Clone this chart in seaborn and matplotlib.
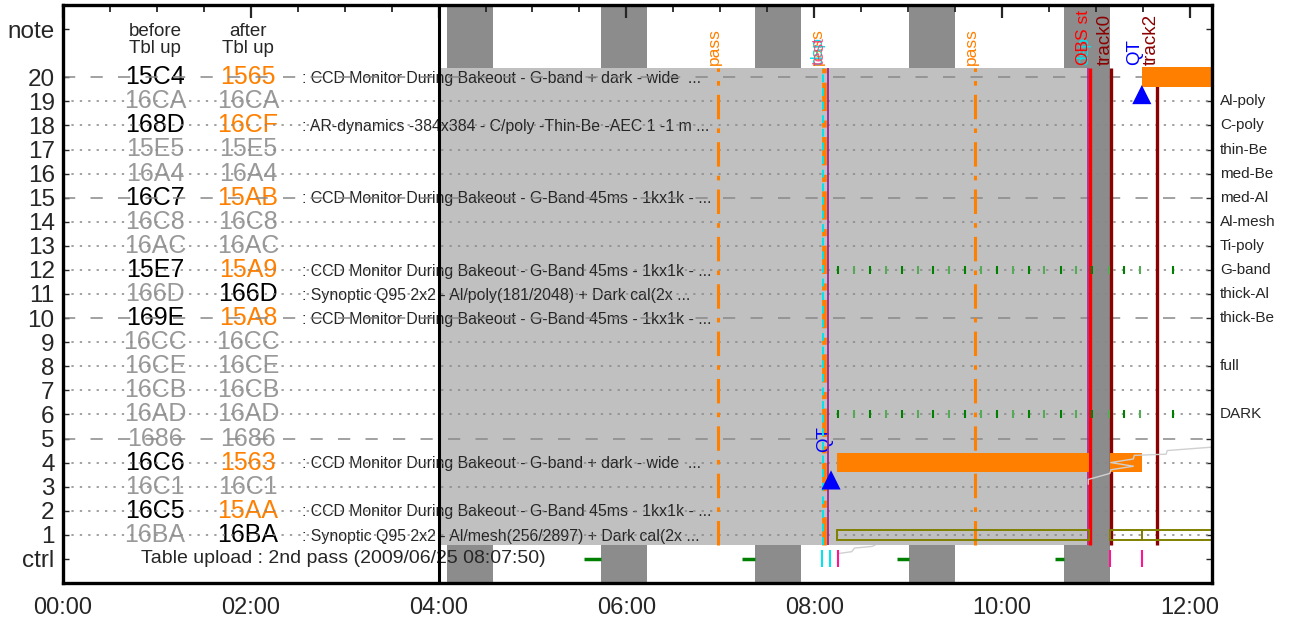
import matplotlib
matplotlib.use("Agg")
import matplotlib.pyplot as plt
from matplotlib.ticker import FuncFormatter
import numpy as np
import pandas as pd
import seaborn as sns

# ---- data ---------------------------------------------------------------
rows = list(range(20, 0, -1))
before_tbl = ["15C4", "16CA", "168D", "15E5", "16A4", "16C7", "16C8", "16AC", "15E7", "166D",
              "169E", "16CC", "16CE", "16CB", "16AD", "1686", "16C6", "16C1", "16C5", "16BA"]
after_tbl = ["1565", "16CA", "16CF", "15E5", "16A4", "15AB", "16C8", "16AC", "15A9", "166D",
             "15A8", "16CC", "16CE", "16CB", "16AD", "1686", "1563", "16C1", "15AA", "16BA"]
# new = changed by upload, same = unchanged, kept = unchanged but in use
row_state = ["new", "same", "new", "same", "same", "new", "same", "same", "new", "kept",
             "new", "same", "same", "same", "same", "same", "new", "same", "new", "kept"]

descriptions = {
    20: ": CCD Monitor During Bakeout - G-band + dark - wide  ...",
    18: ": AR-dynamics -384x384 - C/poly -Thin-Be -AEC 1 -1 m ...",
    15: ": CCD Monitor During Bakeout - G-Band 45ms - 1kx1k - ...",
    12: ": CCD Monitor During Bakeout - G-Band 45ms - 1kx1k - ...",
    11: ": Synoptic Q95 2x2 - Al/poly(181/2048) + Dark cal(2x ...",
    10: ": CCD Monitor During Bakeout - G-Band 45ms - 1kx1k - ...",
    4: ": CCD Monitor During Bakeout - G-band + dark - wide  ...",
    2: ": CCD Monitor During Bakeout - G-Band 45ms - 1kx1k - ...",
    1: ": Synoptic Q95 2x2 - Al/mesh(256/2897) + Dark cal(2x ...",
}

filter_rows = [19, 18, 17, 16, 15, 14, 13, 12, 11, 10, 8, 6]
filter_names = ["Al-poly", "C-poly", "thin-Be", "med-Be", "med-Al", "Al-mesh", "Ti-poly",
                "G-band", "thick-Al", "thick-Be", "full", "DARK"]

# times in hours of the day
eclipse_start = [4.085, 5.728, 7.37, 9.01, 10.656]
eclipse_len = 0.49
busy_start, busy_end = 4.0, 10.93
pass_times = [6.976, 9.717]
upload_time = 8.10
obs_start = 10.94
track_times = [11.157, 11.648]
track_labels = ["track0", "track2"]

qt_times = [8.18, 11.49]
qt_rows = [3.28, 19.28]

bar_rows = [4, 4, 20]
bar_start = [8.245, 11.15, 11.49]
bar_end = [10.93, 11.49, 12.40]

olive_start = [8.245, 11.15, 11.49]
olive_end = [10.93, 11.49, 12.40]

expo_times = [8.256, 8.43, 8.59, 8.77, 8.94, 9.11, 9.27, 9.44, 9.61, 9.78, 9.95,
              10.12, 10.29, 10.45, 10.63, 10.79, 10.96, 11.14, 11.30, 11.47, 11.82]
expo_rows = [12, 6]

ctrl_green_start = [5.55, 7.23, 8.885, 10.57]
ctrl_green_end = [5.728, 7.37, 9.013, 10.656]
ctrl_cyan = [8.085, 8.17]
ctrl_pink = [8.256, 11.15, 11.49]

vol_t = [8.25, 8.40, 8.43, 8.62, 8.66, 10.92, 10.92, 11.15, 11.16, 11.40, 11.16,
         11.40, 11.41, 11.75, 11.76, 12.30]
vol_y = [0.22, 0.30, 0.45, 0.52, 0.60, 3.10, 3.30, 3.55, 3.70, 3.85, 4.00,
         4.15, 4.30, 4.35, 4.50, 4.66]

ORANGE = "#ff8000"
GREYTXT = "#999999"
LIGHT = "#c0c0c0"
DARK = "#8c8c8c"
MAROON = "#8b0000"

sns.set_style("white")
plt.rcParams["font.family"] = ["Liberation Sans", "DejaVu Sans"]

fig, ax = plt.subplots(figsize=(12.96, 6.25), dpi=100)
fig.subplots_adjust(left=0.0486, right=0.935, bottom=0.0672, top=0.992)
ax.set_xlim(0, 12.235)
ax.set_ylim(-1, 23)

# background bands
for s in eclipse_start:
    ax.axvspan(s, s + eclipse_len, color=DARK, lw=0, zorder=0)
ax.fill_between([busy_start, busy_end], 0.58, 20.4, color=LIGHT, lw=0, zorder=0.5)

# table columns
ax.text(0.98, 21.55, "before\nTbl up", ha="center", va="center", fontsize=13.5, linespacing=0.95)
ax.text(1.97, 21.55, "after\nTbl up", ha="center", va="center", fontsize=13.5, linespacing=0.95)
for r, b, a, st in zip(rows, before_tbl, after_tbl, row_state):
    cb = "black" if st == "new" else GREYTXT
    ca = ORANGE if st == "new" else ("black" if st == "kept" else GREYTXT)
    ax.text(0.98, r, b, ha="center", va="center", fontsize=18, color=cb, zorder=1)
    ax.text(1.97, r, a, ha="center", va="center", fontsize=18, color=ca, zorder=1)
for r, d in descriptions.items():
    ax.text(2.55, r - 0.05, d, ha="left", va="center", fontsize=11.4, zorder=1)
ax.text(2.99, 0, "Table upload : 2nd pass (2009/06/25 08:07:50)", ha="center", va="center",
        fontsize=14, zorder=1)

# row grid lines
for r in rows:
    ls = (0, (8, 10)) if r % 5 == 0 else (0, (1.5, 4))
    ax.axhline(r, color="#888888", lw=1.1, ls=ls, zorder=2)

ax.axvline(4.0, color="black", lw=2.2, zorder=3)

# event lines
ax.vlines(pass_times, 0.58, 20.4, color=ORANGE, lw=2.2, ls=(0, (8, 3, 1.5, 3)), zorder=3)
for t in pass_times:
    ax.text(t - 0.04, 20.5, "pass", rotation=90, ha="center", va="bottom", color=ORANGE, fontsize=12.5)

ax.vlines(upload_time, 0.58, 20.4, color=ORANGE, lw=3.4, ls=(0, (6, 2, 1.5, 2)), zorder=3)
ax.vlines(upload_time - 0.01, 0.58, 20.4, color="#00e5ee", lw=1.4, ls=(0, (4, 3)), zorder=3.1)
ax.vlines(upload_time + 0.05, 0.58, 20.4, color="#a020a0", lw=1.3, zorder=3.1)
ax.text(upload_time - 0.06, 20.5, "pass", rotation=90, ha="center", va="bottom", color=ORANGE, fontsize=12.5)
ax.text(upload_time - 0.06, 20.5, "dsp", rotation=90, ha="center", va="bottom", color="#00e5ee", fontsize=12.5)
ax.text(upload_time - 0.05, 20.5, "test", rotation=90, ha="center", va="bottom", color="#ff3070", fontsize=12.5, alpha=0.8)

ax.vlines(obs_start - 0.02, 0.58, 20.4, color="#a020a0", lw=1.2, zorder=3)
ax.vlines(obs_start, 0.58, 20.4, color="red", lw=2.4, zorder=3.1)
ax.text(obs_start - 0.07, 20.5, "dsp", rotation=90, ha="center", va="bottom", color="#00e5ee", fontsize=12.5)
ax.text(obs_start - 0.07, 20.5, "OBS st", rotation=90, ha="center", va="bottom", color="red", fontsize=12.5)

ax.vlines(track_times, 0.58, 20.4, color=MAROON, lw=2.4, zorder=3)
for t, lab in zip(track_times, track_labels):
    ax.text(t - 0.06, 20.5, lab, rotation=90, ha="center", va="bottom", color=MAROON, fontsize=13.5)

# observation bars
ax.barh(bar_rows, np.subtract(bar_end, bar_start), left=bar_start, height=0.82,
        color=ORANGE, lw=0, zorder=4)
ax.barh([1] * len(olive_start), np.subtract(olive_end, olive_start), left=olive_start,
        height=0.42, fill=False, edgecolor="#808000", lw=1.4, zorder=4)

# exposures
greens = ["#008000" if i % 2 == 0 else "#55aa55" for i in range(len(expo_times))]
for r in expo_rows:
    for t, c in zip(expo_times, greens):
        ax.plot([t], [r], ls="none", marker="|", ms=6, mew=1.5, color=c, zorder=4)

# ctrl row
ax.hlines([0] * len(ctrl_green_start), ctrl_green_start, ctrl_green_end, color="#008000", lw=2.5, zorder=4)
ax.vlines(ctrl_cyan, -0.33, 0.35, color="#00e5ee", lw=1.5, zorder=4)
ax.vlines(ctrl_pink, -0.33, 0.35, color="#ff1493", lw=1.5, zorder=4)

# data volume trace: hidden under the busy region, drawn on top after it
ax.plot(vol_t[:6], vol_y[:6], color="#d0d0d0", lw=1.0, zorder=0.3)
ax.plot(vol_t[5:], vol_y[5:], color="#d0d0d0", lw=1.0, zorder=5)

# QT markers
qt = pd.DataFrame({"t": qt_times, "row": qt_rows})
sns.scatterplot(data=qt, x="t", y="row", marker="^", color="blue", s=190, edgecolor="none",
                ax=ax, zorder=6, legend=False)
ax.text(qt_times[0] - 0.07, qt_rows[0] + 1.15, "QT", rotation=90, ha="center", va="bottom",
        color="blue", fontsize=13.5)
ax.text(qt_times[1] - 0.08, 20.5, "QT", rotation=90, ha="center", va="bottom",
        color="blue", fontsize=13.5)

# filter names on the right
ytr = ax.get_yaxis_transform()
for r, name in zip(filter_rows, filter_names):
    ax.text(1.007, r, name, transform=ytr, ha="left", va="center", fontsize=11, clip_on=False)

# axes
ax.set_xticks(np.arange(0, 13, 2))
ax.set_xticks(np.arange(0, 12.3, 0.5), minor=True)
ax.xaxis.set_major_formatter(FuncFormatter(lambda h, p: f"{int(round(h)):02d}:00"))
ax.set_yticks(list(range(0, 21)) + [22])
ax.set_yticklabels(["ctrl"] + [str(i) for i in range(1, 21)] + ["note"])
ax.tick_params(axis="x", which="major", direction="in", length=9, width=1.6, top=True,
               labelsize=17, pad=10)
ax.tick_params(axis="x", which="minor", direction="in", length=5, width=1.3, top=True)
ax.tick_params(axis="y", direction="in", length=4, width=1, left=True, right=True,
               labelsize=17.5, pad=6)
ax.set_xlabel("")
ax.set_ylabel("")
for sp in ax.spines.values():
    sp.set_linewidth(2.4)
    sp.set_color("black")
    sp.set_zorder(10)

fig.savefig("out.png", dpi=100)
